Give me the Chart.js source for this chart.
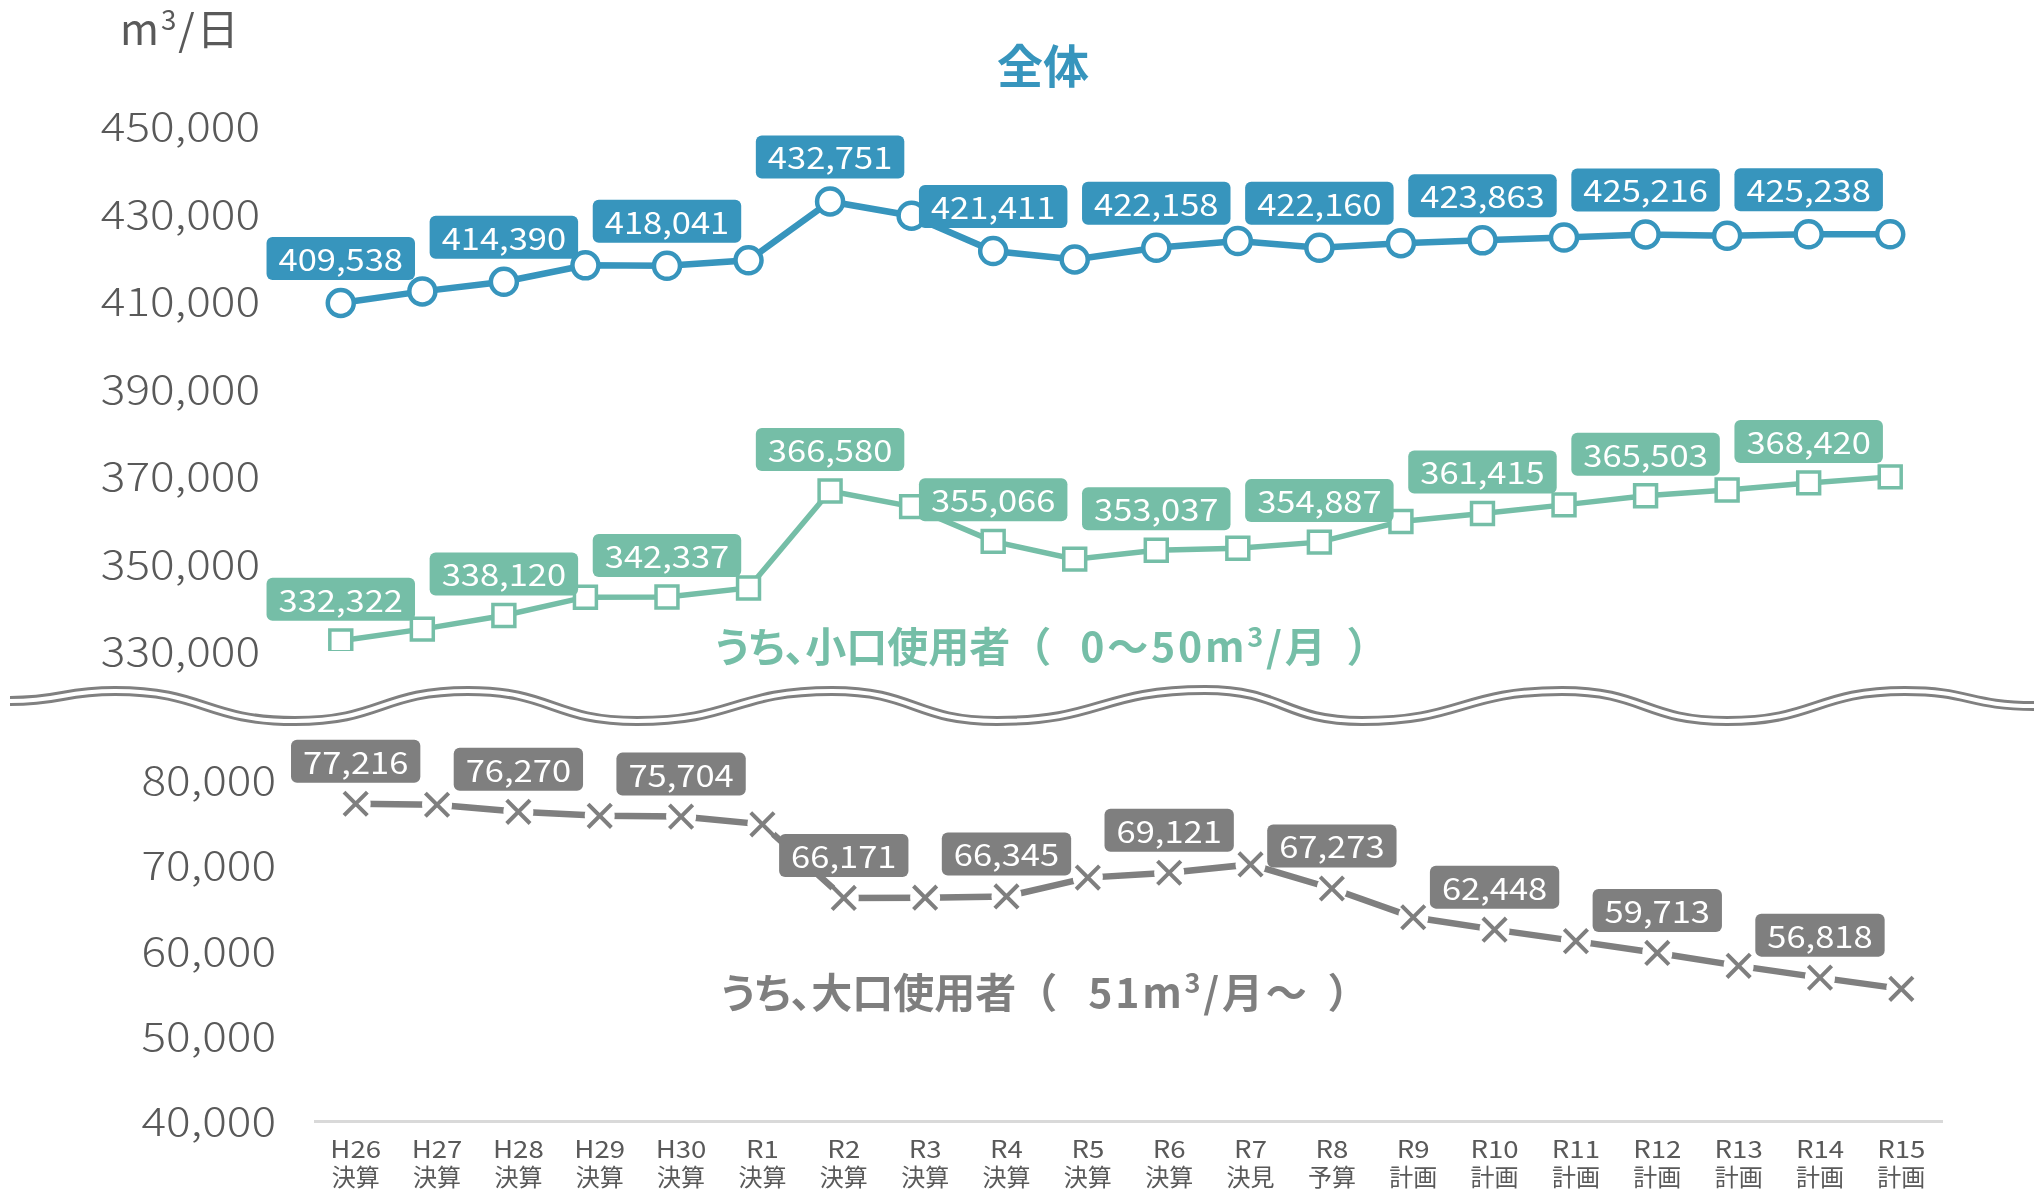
<!DOCTYPE html>
<html>
<head>
<meta charset="utf-8">
<script src="https://cdn.jsdelivr.net/npm/chart.js@4.4.1/dist/chart.umd.min.js"></script>
<style>
html,body{margin:0;padding:0;background:#fff;}
#wrap{position:relative;width:2034px;height:1191px;overflow:hidden;font-family:"Noto Sans CJK JP","Noto Sans",sans-serif;}
canvas{position:absolute;left:0;top:0;}
svg{position:absolute;left:0;top:0;}
.txt{position:absolute;white-space:nowrap;line-height:1;transform:translateY(-50%);}
.txt sup{font-size:0.66em;vertical-align:0.55em;line-height:0;}
.palt{font-feature-settings:"palt";}
.lat{letter-spacing:2px;}
.lat2{letter-spacing:2.8px;}
</style>
</head>
<body>
<div id="wrap">
  <svg id="wave" width="2034" height="1191"></svg>
  <canvas id="c1" width="2034" height="1191"></canvas>
  <canvas id="c2" width="2034" height="1191"></canvas>
  <div class="txt" id="unit" style="left:120px;top:27px;font-size:42px;color:#595959;"><span class="lat">m<sup>3</sup>/</span>日</div>
  <div class="txt" id="title" style="left:997px;top:63px;font-size:46px;font-weight:bold;color:#3795BD;">全体</div>
  <div class="txt" id="noteSmall" style="left:715px;top:644px;font-size:41px;font-weight:bold;color:#75BEA7;"><span class="palt">うち、小口使用者</span>（<span class="lat2" style="margin-left:29px">0～50m<sup>3</sup>/月</span><span style="margin-left:18px">）</span></div>
  <div class="txt" id="noteLarge" style="left:721px;top:990px;font-size:41px;font-weight:bold;color:#7F7F7F;"><span class="palt">うち、大口使用者</span>（<span class="lat2" style="margin-left:31px">51m<sup>3</sup>/月～</span><span style="margin-left:18px">）</span></div>
</div>
<script>
// ---- data ----
const categories = ['H26','H27','H28','H29','H30','R1','R2','R3','R4','R5','R6','R7','R8','R9','R10','R11','R12','R13','R14','R15'];
const categoryNotes = ['決算','決算','決算','決算','決算','決算','決算','決算','決算','決算','決算','決見','予算','計画','計画','計画','計画','計画','計画','計画'];
const totalValues = [409538, 412200, 414390, 418150, 418041, 419300, 432751, 429500, 421411, 419500, 422158, 423700, 422160, 423200, 423863, 424500, 425216, 424900, 425238, 425250];
const smallValues = [332322, 335000, 338120, 342300, 342337, 344400, 366580, 363000, 355066, 351000, 353037, 353500, 354887, 359600, 361415, 363400, 365503, 366800, 368420, 369800];
const largeValues = [77216, 77100, 76270, 75800, 75704, 74800, 66171, 66200, 66345, 68550, 69121, 70100, 67273, 63900, 62448, 61100, 59713, 58200, 56818, 55500];
const labelledIndices = [0, 2, 4, 6, 8, 10, 12, 14, 16, 18];
const upperTickMin = 330000, upperTickMax = 450000, upperTickStep = 20000;
const lowerTickMin = 40000, lowerTickMax = 80000, lowerTickStep = 10000;

const BLUE = '#3795BD', GREEN = '#75BEA7', GRAY = '#7F7F7F', TICK = '#595959';
const FONT = '"Noto Sans CJK JP","Noto Sans",sans-serif';
const LATIN_STRETCH = 1.15;
Chart.defaults.font.family = FONT;
Chart.defaults.animation = false;

const fmt = v => Number(v).toLocaleString('en-US');
const xLabels = categories.map((c, i) => [c, categoryNotes[i]]);

// the reference font has wider Latin glyphs: stretch ASCII-only strings horizontally around their anchor
function stretchLatin(ctx) {
  const orig = ctx.fillText.bind(ctx);
  ctx.fillText = function (text, x, y, maxWidth) {
    if (/^[\x20-\x7E]+$/.test(String(text))) {
      this.save();
      this.translate(x, y);
      this.scale(LATIN_STRETCH, 1);
      if (maxWidth !== undefined) orig(text, 0, 0, maxWidth / LATIN_STRETCH); else orig(text, 0, 0);
      this.restore();
    } else {
      if (maxWidth !== undefined) orig(text, x, y, maxWidth); else orig(text, x, y);
    }
  };
}

// boxed value labels above points
const boxLabels = {
  id: 'boxLabels',
  afterDatasetsDraw(chart) {
    const ctx = chart.ctx;
    chart.data.datasets.forEach((ds, di) => {
      const bl = ds.boxLabel;
      if (!bl) return;
      const meta = chart.getDatasetMeta(di);
      labelledIndices.forEach(i => {
        const el = meta.data[i];
        if (!el) return;
        const text = fmt(ds.data[i]);
        ctx.save();
        ctx.font = bl.size + 'px ' + FONT;
        const w = ctx.measureText(text).width * LATIN_STRETCH + bl.padX * 2;
        const h = bl.h;
        const x = el.x - w / 2, y = el.y - bl.gap - h;
        ctx.fillStyle = bl.color;
        ctx.beginPath();
        ctx.roundRect(x, y, w, h, 6);
        ctx.fill();
        ctx.fillStyle = '#fff';
        ctx.textAlign = 'center';
        ctx.textBaseline = 'middle';
        ctx.fillText(text, el.x, y + h / 2 + 1);
        ctx.restore();
      });
    });
  }
};

const c1 = document.getElementById('c1');
const c2 = document.getElementById('c2');
stretchLatin(c1.getContext('2d'));
stretchLatin(c2.getContext('2d'));

// upper chart: total and small users
new Chart(c1, {
  type: 'line',
  data: {
    labels: categories,
    datasets: [
      {
        data: totalValues, order: 1,
        borderColor: BLUE, borderWidth: 6.5,
        pointStyle: 'circle', pointRadius: 13, pointBorderWidth: 4.5,
        pointBackgroundColor: '#fff', pointBorderColor: BLUE,
        boxLabel: {color: BLUE, size: 30, padX: 12, h: 43, gap: 23}
      },
      {
        data: smallValues, order: 2,
        borderColor: GREEN, borderWidth: 5.5,
        pointStyle: 'rect', pointRadius: 15.5, pointBorderWidth: 3.5,
        pointBackgroundColor: '#fff', pointBorderColor: GREEN,
        boxLabel: {color: GREEN, size: 30, padX: 12, h: 43, gap: 20}
      }
    ]
  },
  options: {
    responsive: false,
    layout: {padding: {top: 126, bottom: 540, left: 0, right: 103}},
    plugins: {legend: {display: false}, tooltip: {enabled: false}},
    scales: {
      x: {display: false, offset: true},
      y: {
        min: upperTickMin, max: upperTickMax,
        afterFit(s) { s.width = 300; },
        grid: {display: false, drawTicks: false},
        border: {display: false},
        ticks: {stepSize: upperTickStep, padding: 40, color: TICK, font: {size: 40, weight: 300}, callback: v => fmt(v)}
      }
    }
  },
  plugins: [boxLabels]
});

// lower chart: large users
new Chart(c2, {
  type: 'line',
  data: {
    labels: xLabels,
    datasets: [
      {
        data: largeValues, order: 3,
        borderColor: GRAY, borderWidth: 6.5, pointRadius: 0
      },
      {
        data: largeValues, order: 2, showLine: false,
        pointStyle: 'circle', pointRadius: 15, pointBorderWidth: 0,
        pointBackgroundColor: '#fff', pointBorderColor: '#fff'
      },
      {
        data: largeValues, order: 1, showLine: false,
        borderColor: GRAY,
        pointStyle: 'crossRot', pointRadius: 16.5, pointBorderWidth: 4,
        pointBorderColor: GRAY,
        boxLabel: {color: GRAY, size: 30, padX: 12, h: 43, gap: 21}
      }
    ]
  },
  options: {
    responsive: false,
    layout: {padding: {top: 780, bottom: 0, left: 0, right: 92}},
    plugins: {legend: {display: false}, tooltip: {enabled: false}},
    scales: {
      x: {
        offset: true,
        afterFit(s) { s.height = 70; },
        grid: {display: false, drawTicks: false},
        border: {display: true, color: '#D9D9D9', width: 3},
        ticks: {autoSkip: false, maxRotation: 0, padding: 14, color: TICK, font: {size: 24, lineHeight: 1.17}}
      },
      y: {
        min: lowerTickMin, max: lowerTickMax,
        afterFit(s) { s.width = 315; },
        grid: {display: false, drawTicks: false},
        border: {display: false},
        ticks: {stepSize: lowerTickStep, padding: 39, color: TICK, font: {size: 40, weight: 300}, callback: v => fmt(v)}
      }
    }
  },
  plugins: [boxLabels]
});

// axis break wave (decoration)
const wavePts = [[10,701],[115,691],[295,721],[468,691],[637,721],[832,691],[997,721],[1205,690],[1362,721],[1562,691],[1727,721],[1905,691],[2034,706]];
let d = 'M' + wavePts[0][0] + ',' + wavePts[0][1];
for (let i = 1; i < wavePts.length; i++) {
  const [x0, y0] = wavePts[i - 1], [x1, y1] = wavePts[i];
  const dx = (x1 - x0) / 2;
  d += ' C' + (x0 + dx) + ',' + y0 + ' ' + (x1 - dx) + ',' + y1 + ' ' + x1 + ',' + y1;
}
document.getElementById('wave').innerHTML =
  '<path d="' + d + '" fill="none" stroke="#808080" stroke-width="10"/>' +
  '<path d="' + d + '" fill="none" stroke="#ffffff" stroke-width="4"/>';
</script>
</body>
</html>
